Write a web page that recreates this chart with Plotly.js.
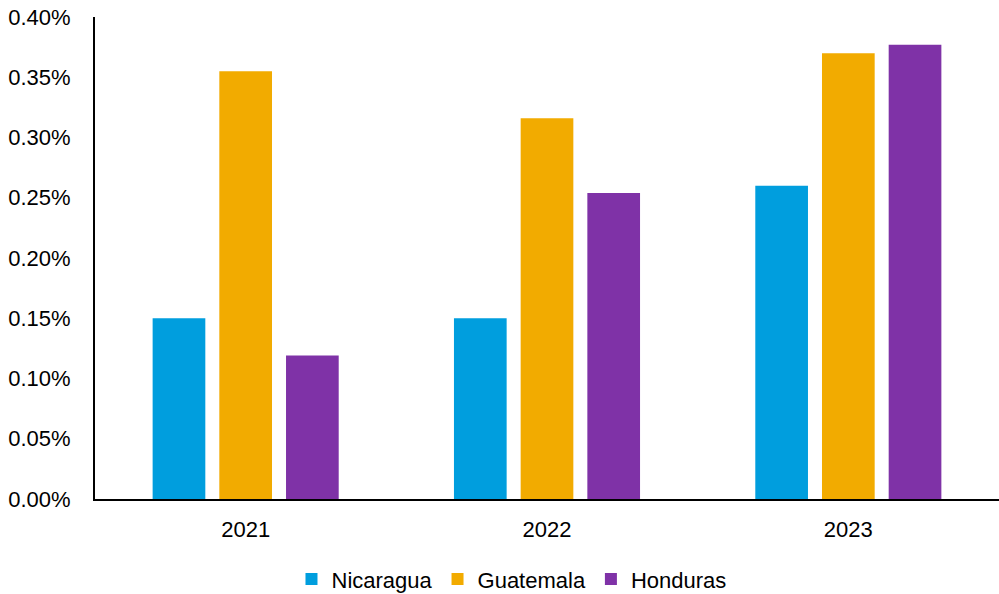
<!DOCTYPE html>
<html>
<head>
<meta charset="utf-8">
<script src="https://cdn.plot.ly/plotly-3.0.1.min.js"></script>
<style>html,body{margin:0;padding:0;background:#fff;}#chart{width:999px;height:594px;}</style>
</head>
<body>
<div id="chart"></div>
<script>
const years = ["2021", "2022", "2023"];
const nicaragua = [0.150, 0.150, 0.260];
const guatemala = [0.355, 0.316, 0.370];
const honduras = [0.119, 0.254, 0.377];
const seriesNames = ["Nicaragua", "Guatemala", "Honduras"];
const seriesColors = ["#009EDE", "#F2AB00", "#7F32A7"];
const yTickVals = [0, 0.05, 0.10, 0.15, 0.20, 0.25, 0.30, 0.35, 0.40];
const yTickText = ["0.00%", "0.05%", "0.10%", "0.15%", "0.20%", "0.25%", "0.30%", "0.35%", "0.40%"];

const allValues = [nicaragua, guatemala, honduras];
const traces = allValues.map((vals, i) => ({
  type: "bar",
  x: years,
  y: vals,
  name: seriesNames[i],
  marker: {color: seriesColors[i]},
  hoverinfo: "none"
}));

const layout = {
  width: 999,
  height: 594,
  margin: {l: 95, r: 0, t: 17, b: 95},
  paper_bgcolor: "#fff",
  plot_bgcolor: "#fff",
  font: {family: "Liberation Sans, Arial, sans-serif", size: 22, color: "#000"},
  barmode: "group",
  bargap: 0.336,
  bargroupgap: 0.21,
  showlegend: true,
  legend: {orientation: "h", x: 0.512, xref: "container", xanchor: "center", y: 0.025, yref: "container", yanchor: "middle", font: {size: 22}, itemwidth: 30, traceorder: "normal"},
  xaxis: {
    type: "category",
    automargin: false,
    showline: true, linecolor: "#000", linewidth: 2,
    showgrid: false, ticks: "", zeroline: false,
    tickfont: {size: 22},
    ticklabelstandoff: 10
  },
  yaxis: {
    range: [0, 0.40],
    automargin: false,
    tickvals: yTickVals, ticktext: yTickText,
    showline: true, linecolor: "#000", linewidth: 2,
    showgrid: false, zeroline: false, ticks: "",
    tickfont: {size: 22},
    ticklabelstandoff: 18
  }
};

Plotly.newPlot("chart", traces, layout, {displayModeBar: false, staticPlot: true});
</script>
</body>
</html>
